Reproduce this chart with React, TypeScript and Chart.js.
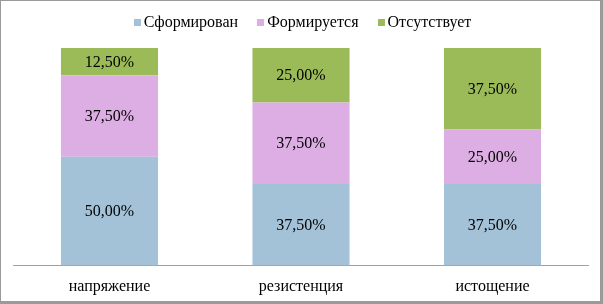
import React, { useEffect, useRef } from "react";
import { Chart, registerables } from "chart.js";

Chart.register(...registerables);

const categories = ["напряжение", "резистенция", "истощение"];
const seriesNames = ["Сформирован", "Формируется", "Отсутствует"];
const formed = [50, 37.5, 37.5];
const forming = [37.5, 37.5, 25];
const absent = [12.5, 25, 37.5];
const colors = ["#A3C2D8", "#DDAEE3", "#9BBB59"];

const FONT = "'Liberation Serif', 'Times New Roman', serif";

const fmt = (v: number) => v.toFixed(2).replace(".", ",") + "%";

const labelPlugin = {
  id: "segLabels",
  afterDatasetsDraw(chart: any) {
    const ctx = chart.ctx;
    ctx.save();
    ctx.font = `16px ${FONT}`;
    ctx.fillStyle = "#000";
    ctx.textAlign = "center";
    ctx.textBaseline = "middle";
    chart.data.datasets.forEach((ds: any, i: number) => {
      const meta = chart.getDatasetMeta(i);
      meta.data.forEach((el: any, j: number) => {
        const v = ds.data[j];
        const cy = (el.y + el.base) / 2 + 1;
        ctx.fillText(fmt(v), el.x, cy);
      });
    });
    ctx.restore();
  },
};

export default function App() {
  const ref = useRef<HTMLCanvasElement | null>(null);
  useEffect(() => {
    document.body.style.margin = "0";
    if (!ref.current) return;
    const chart = new Chart(ref.current, {
      type: "bar",
      data: {
        labels: categories,
        datasets: [formed, forming, absent].map((d, i) => ({
          label: seriesNames[i],
          data: d,
          backgroundColor: colors[i],
          borderWidth: 0,
          barPercentage: 0.507,
          categoryPercentage: 1,
        })),
      },
      options: {
        responsive: false,
        animation: false,
        layout: { padding: { left: 13.75, right: 14.75, top: 48, bottom: 0 } },
        plugins: { legend: { display: false }, tooltip: { enabled: false } },
        scales: {
          x: {
            stacked: true,
            grid: { display: false },
            border: { color: "#A0A0A0", width: 1 },
            ticks: { color: "#000", font: { family: FONT, size: 16 }, padding: 4, maxRotation: 0 },
            afterFit: (axis: any) => {
              axis.height = 38.5;
            },
          },
          y: { stacked: true, display: false, min: 0, max: 100 },
        },
      },
      plugins: [labelPlugin],
    });
    return () => chart.destroy();
  }, []);

  return (
    <div style={{ position: "absolute", left: 0, top: 0, width: 603, height: 304, background: "#fff" }}>
      <canvas ref={ref} width={603} height={304} style={{ position: "absolute", left: 0, top: 0, width: 603, height: 304 }} />
      <div
        style={{
          position: "absolute",
          left: 0,
          top: 12,
          width: 603,
          display: "flex",
          justifyContent: "center",
          paddingLeft: 2,
          boxSizing: "border-box",
          fontFamily: FONT,
          fontSize: 16,
          lineHeight: "20px",
          color: "#000",
        }}
      >
        {seriesNames.map((n, i) => (
          <div key={n} style={{ display: "flex", alignItems: "center", marginLeft: i === 0 ? 0 : 19 }}>
            <span style={{ display: "inline-block", width: 7, height: 7, background: colors[i], marginRight: 3 }} />
            <span>{n}</span>
          </div>
        ))}
      </div>
      <div
        style={{
          position: "absolute",
          left: 0,
          top: 0,
          width: 603,
          height: 304,
          boxSizing: "border-box",
          borderTop: "1px solid #9a9a9a",
          borderLeft: "1px solid #9a9a9a",
          borderRight: "3px solid #9a9a9a",
          borderBottom: "3px solid #9a9a9a",
          pointerEvents: "none",
        }}
      />
    </div>
  );
}
